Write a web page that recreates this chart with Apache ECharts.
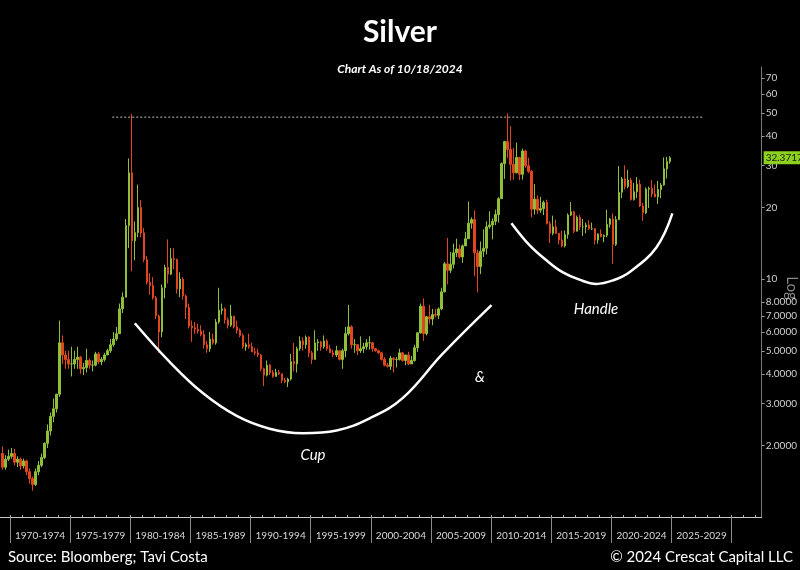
<!DOCTYPE html>
<html>
<head>
<meta charset="utf-8">
<script src="https://cdn.jsdelivr.net/npm/echarts@6/dist/echarts.min.js"></script>
<style>
html,body{margin:0;padding:0;background:#000;}
#chart{width:800px;height:570px;}
</style>
</head>
<body>
<div id="chart"></div>
<script>
// Quarterly silver prices (USD/oz): [quarter, open, close, low, high]
const silverQuarterly = [
['1969Q2',1.85,1.62,1.58,1.98],['1969Q3',1.62,1.75,1.58,1.82],['1969Q4',1.75,1.80,1.72,1.92],
['1970Q1',1.80,1.85,1.76,1.95],['1970Q2',1.85,1.70,1.65,1.93],['1970Q3',1.70,1.75,1.62,1.80],['1970Q4',1.75,1.64,1.58,1.78],
['1971Q1',1.64,1.72,1.60,1.76],['1971Q2',1.72,1.55,1.50,1.74],['1971Q3',1.55,1.45,1.38,1.60],['1971Q4',1.45,1.37,1.29,1.48],
['1972Q1',1.37,1.55,1.35,1.60],['1972Q2',1.55,1.65,1.50,1.72],['1972Q3',1.65,1.78,1.62,1.85],['1972Q4',1.78,2.04,1.75,2.06],
['1973Q1',2.04,2.30,1.95,2.45],['1973Q2',2.30,2.65,2.20,2.75],['1973Q3',2.65,2.85,2.50,3.15],['1973Q4',2.85,3.28,2.75,3.30],
['1974Q1',3.28,5.40,3.20,6.70],['1974Q2',5.40,4.80,4.40,5.80],['1974Q3',4.80,4.60,4.20,5.00],['1974Q4',4.60,4.40,4.20,5.00],
['1975Q1',4.40,4.40,3.90,5.20],['1975Q2',4.40,4.60,4.20,5.00],['1975Q3',4.60,4.70,4.20,5.20],['1975Q4',4.70,4.20,4.00,4.75],
['1976Q1',4.20,4.25,3.95,4.45],['1976Q2',4.25,4.55,4.05,5.10],['1976Q3',4.55,4.35,4.20,4.65],['1976Q4',4.35,4.35,4.10,4.55],
['1977Q1',4.35,4.85,4.30,4.95],['1977Q2',4.85,4.50,4.40,4.95],['1977Q3',4.50,4.60,4.35,4.70],['1977Q4',4.60,4.80,4.50,4.90],
['1978Q1',4.80,5.00,4.80,5.10],['1978Q2',5.00,5.30,4.90,5.60],['1978Q3',5.30,5.60,5.20,6.00],['1978Q4',5.60,5.90,5.50,6.30],
['1979Q1',5.90,7.50,5.90,7.90],['1979Q2',7.50,8.40,7.20,8.80],['1979Q3',8.40,16.80,8.40,17.90],['1979Q4',16.80,28.00,13.50,32.20],
['1980Q1',28.00,14.50,10.80,49.45],['1980Q2',14.50,15.70,12.00,17.50],['1980Q3',15.70,20.00,15.00,25.00],['1980Q4',20.00,15.65,15.00,21.50],
['1981Q1',15.65,12.10,11.80,16.40],['1981Q2',12.10,9.70,9.50,12.50],['1981Q3',9.70,9.40,8.60,10.60],['1981Q4',9.40,8.35,8.20,10.20],
['1982Q1',8.35,7.00,6.80,8.50],['1982Q2',7.00,6.00,4.90,7.10],['1982Q3',6.00,9.20,5.70,9.50],['1982Q4',9.20,11.20,8.30,11.50],
['1983Q1',11.20,10.50,9.60,14.70],['1983Q2',10.50,12.20,10.40,13.50],['1983Q3',12.20,12.10,11.00,13.50],['1983Q4',12.10,9.10,8.70,12.20],
['1984Q1',9.10,10.00,8.40,10.70],['1984Q2',10.00,8.50,8.20,10.20],['1984Q3',8.50,7.60,6.80,8.60],['1984Q4',7.60,6.35,6.20,7.90],
['1985Q1',6.35,6.25,5.45,6.70],['1985Q2',6.25,6.15,5.90,6.60],['1985Q3',6.15,6.05,5.90,6.50],['1985Q4',6.05,5.85,5.75,6.40],
['1986Q1',5.85,5.30,5.10,6.10],['1986Q2',5.30,5.10,4.90,5.50],['1986Q3',5.10,5.60,4.95,6.00],['1986Q4',5.60,5.40,5.30,5.90],
['1987Q1',5.40,6.60,5.30,6.80],['1987Q2',6.60,7.40,6.50,9.20],['1987Q3',7.40,7.50,7.10,7.90],['1987Q4',7.50,6.75,6.50,7.60],
['1988Q1',6.75,6.40,6.20,6.90],['1988Q2',6.40,7.00,6.30,7.80],['1988Q3',7.00,6.30,6.20,7.00],['1988Q4',6.30,6.10,5.90,6.70],
['1989Q1',6.10,5.80,5.70,6.20],['1989Q2',5.80,5.20,5.10,5.90],['1989Q3',5.20,5.30,5.00,5.40],['1989Q4',5.30,5.20,5.10,5.90],
['1990Q1',5.20,4.95,4.95,5.40],['1990Q2',4.95,4.90,4.80,5.15],['1990Q3',4.90,4.80,4.70,5.10],['1990Q4',4.80,4.20,4.10,4.85],
['1991Q1',4.20,3.95,3.55,4.25],['1991Q2',3.95,4.35,3.90,4.55],['1991Q3',4.35,4.05,3.95,4.40],['1991Q4',4.05,3.90,3.85,4.15],
['1992Q1',3.90,4.05,3.90,4.20],['1992Q2',4.05,4.00,3.95,4.15],['1992Q3',4.00,3.75,3.65,4.00],['1992Q4',3.75,3.70,3.65,3.85],
['1993Q1',3.70,3.80,3.52,3.85],['1993Q2',3.80,4.50,3.75,4.85],['1993Q3',4.50,4.40,4.10,5.40],['1993Q4',4.40,5.10,4.05,5.20],
['1994Q1',5.10,5.50,5.00,5.75],['1994Q2',5.50,5.30,5.00,5.70],['1994Q3',5.30,5.70,5.10,5.80],['1994Q4',5.70,4.90,4.70,5.75],
['1995Q1',4.90,4.60,4.40,5.00],['1995Q2',4.60,5.40,4.60,6.10],['1995Q3',5.40,5.45,5.00,5.60],['1995Q4',5.45,5.20,5.00,5.50],
['1996Q1',5.20,5.50,5.10,5.80],['1996Q2',5.50,5.10,5.00,5.60],['1996Q3',5.10,4.90,4.90,5.30],['1996Q4',4.90,4.80,4.70,5.05],
['1997Q1',4.80,5.00,4.70,5.25],['1997Q2',5.00,4.60,4.55,5.00],['1997Q3',4.60,5.00,4.20,5.10],['1997Q4',5.00,5.90,4.70,6.30],
['1998Q1',5.90,6.30,5.80,7.80],['1998Q2',6.30,5.30,5.10,6.40],['1998Q3',5.30,5.30,4.90,5.60],['1998Q4',5.30,5.00,4.80,5.25],
['1999Q1',5.00,5.10,4.90,5.75],['1999Q2',5.10,5.20,4.90,5.40],['1999Q3',5.20,5.40,5.05,5.60],['1999Q4',5.40,5.40,5.05,5.75],
['2000Q1',5.40,5.10,4.95,5.45],['2000Q2',5.10,5.00,4.95,5.15],['2000Q3',5.00,4.90,4.85,5.05],['2000Q4',4.90,4.60,4.55,4.95],
['2001Q1',4.60,4.35,4.30,4.70],['2001Q2',4.35,4.30,4.25,4.45],['2001Q3',4.30,4.65,4.15,4.75],['2001Q4',4.65,4.60,4.05,4.70],
['2002Q1',4.60,4.60,4.25,4.70],['2002Q2',4.60,4.90,4.55,5.10],['2002Q3',4.90,4.55,4.50,4.95],['2002Q4',4.55,4.80,4.35,4.80],
['2003Q1',4.80,4.40,4.35,4.95],['2003Q2',4.40,4.55,4.40,4.75],['2003Q3',4.55,5.15,4.50,5.30],['2003Q4',5.15,5.95,4.95,5.95],
['2004Q1',5.95,7.70,5.90,7.90],['2004Q2',7.70,5.90,5.50,8.30],['2004Q3',5.90,6.95,5.80,7.00],['2004Q4',6.95,6.80,6.50,7.80],
['2005Q1',6.80,7.10,6.40,7.50],['2005Q2',7.10,7.05,6.90,7.50],['2005Q3',7.05,7.50,6.80,7.60],['2005Q4',7.50,8.85,7.40,9.20],
['2006Q1',8.85,11.60,8.80,11.80],['2006Q2',11.60,10.90,9.50,14.90],['2006Q3',10.90,11.55,10.60,13.00],['2006Q4',11.55,12.90,11.10,14.10],
['2007Q1',12.90,13.40,12.40,14.80],['2007Q2',13.40,12.40,12.20,14.00],['2007Q3',12.40,13.80,11.70,14.00],['2007Q4',13.80,14.80,13.80,15.80],
['2008Q1',14.80,17.20,14.80,21.20],['2008Q2',17.20,17.80,16.30,18.20],['2008Q3',17.80,12.90,10.30,19.50],['2008Q4',12.90,11.30,8.80,13.30],
['2009Q1',11.30,13.10,10.50,14.40],['2009Q2',13.10,13.50,12.40,16.20],['2009Q3',13.50,16.60,12.70,17.50],['2009Q4',16.60,16.90,16.30,19.30],
['2010Q1',16.90,17.50,14.70,18.00],['2010Q2',17.50,18.70,16.90,19.60],['2010Q3',18.70,21.80,17.30,22.10],['2010Q4',21.80,30.60,21.80,31.00],
['2011Q1',30.60,37.90,26.40,38.20],['2011Q2',37.90,35.10,32.30,49.80],['2011Q3',35.10,30.40,26.00,44.00],['2011Q4',30.40,28.00,26.20,35.60],
['2012Q1',28.00,32.50,27.90,37.50],['2012Q2',32.50,27.60,26.10,32.70],['2012Q3',27.60,34.60,26.20,35.40],['2012Q4',34.60,30.00,29.40,35.00],
['2013Q1',30.00,28.40,27.90,32.40],['2013Q2',28.40,19.70,18.20,28.80],['2013Q3',19.70,21.70,18.70,25.10],['2013Q4',21.70,19.50,18.80,22.50],
['2014Q1',19.50,19.80,19.00,22.20],['2014Q2',19.80,21.00,18.60,21.40],['2014Q3',21.00,17.10,17.00,21.60],['2014Q4',17.10,15.60,14.20,17.50],
['2015Q1',15.60,16.60,15.30,18.50],['2015Q2',16.60,15.60,15.50,17.80],['2015Q3',15.60,14.60,14.00,15.60],['2015Q4',14.60,13.80,13.60,16.00],
['2016Q1',13.80,15.40,13.60,16.00],['2016Q2',15.40,18.60,14.80,18.90],['2016Q3',18.60,19.20,18.40,21.10],['2016Q4',19.20,15.90,15.60,19.40],
['2017Q1',15.90,18.20,15.90,18.50],['2017Q2',18.20,16.60,16.10,18.60],['2017Q3',16.60,16.60,15.20,17.90],['2017Q4',16.60,16.90,15.60,17.30],
['2018Q1',16.90,16.30,16.10,17.70],['2018Q2',16.30,16.30,16.10,17.30],['2018Q3',16.30,14.60,14.00,16.40],['2018Q4',14.60,15.50,14.10,15.60],
['2019Q1',15.50,15.10,15.00,16.20],['2019Q2',15.10,15.30,14.30,15.40],['2019Q3',15.30,17.00,15.00,19.60],['2019Q4',17.00,17.90,16.50,18.10],
['2020Q1',17.90,14.00,11.60,18.90],['2020Q2',14.00,17.80,13.80,18.40],['2020Q3',17.80,23.20,17.70,29.90],['2020Q4',23.20,26.40,21.90,26.90],
['2021Q1',26.40,24.50,23.80,30.10],['2021Q2',24.50,26.10,24.10,28.80],['2021Q3',26.10,21.60,21.40,26.70],['2021Q4',21.60,23.30,21.40,25.40],
['2022Q1',23.30,25.10,21.90,26.90],['2022Q2',25.10,20.30,20.10,26.20],['2022Q3',20.30,19.00,17.60,20.90],['2022Q4',19.00,23.90,18.80,24.30],
['2023Q1',23.90,24.10,19.90,24.50],['2023Q2',24.10,22.80,22.10,26.10],['2023Q3',22.80,22.20,22.10,25.00],['2023Q4',22.20,23.80,20.70,25.90],
['2024Q1',23.80,24.90,21.90,25.40],['2024Q2',24.90,29.10,24.70,32.50],['2024Q3',29.10,31.20,26.50,32.70],['2024Q4',31.20,32.3717,30.60,32.90]
];

const lastPrice = 32.3717;
// Dotted resistance line near the 1980 / 2011 highs: [year, price]
const resistanceLine = [[1978.5, 48], [2027.6, 48]];
// Hand-drawn "cup" arc: [year, price]
const cupCurve = [[1980.38,6.53],[1983.29,4.48],[1986.03,3.32],[1988.85,2.66],[1991.59,2.35],[1994.34,2.25],[1997.16,2.31],[1999.90,2.60],[2002.64,3.16],[2005.96,4.85],[2010.03,7.78]];
// Hand-drawn "handle" arc: [year, price]
const handleCurve = [[2011.69,17.2],[2013.19,13.9],[2014.60,12.0],[2015.93,10.7],[2017.34,9.95],[2018.75,9.55],[2020.17,9.9],[2021.50,10.7],[2023.74,13.6],[2025.07,18.9]];
// Axis ticks / labels
const periodStarts = [1970,1975,1980,1985,1990,1995,2000,2005,2010,2015,2020,2025,2030];
const periodLabels = ['1970-1974','1975-1979','1980-1984','1985-1989','1990-1994','1995-1999','2000-2004','2005-2009','2010-2014','2015-2019','2020-2024','2025-2029'];
const yearTicks = [1970,1971,1972,1973,1974,1975,1976,1977,1978,1979,1980,1981,1982,1983,1984,1985,1986,1987,1988,1989,1990,1991,1992,1993,1994,1995,1996,1997,1998,1999,2000,2001,2002,2003,2004,2005,2006,2007,2008,2009,2010,2011,2012,2013,2014,2015,2016,2017,2018,2019,2020,2021,2022,2023,2024,2025,2026,2027,2028,2029,2030,2031,2032];
const priceTicks = [2,3,4,5,6,7,8,10,20,30,40,50,60,70];

function quarterToYear(q) {
  const y = parseInt(q.slice(0, 4), 10);
  const n = parseInt(q.slice(5), 10);
  return y + (n - 1) * 0.25 + 0.125;
}
const candleData = silverQuarterly.map(r => [quarterToYear(r[0]), r[1], r[2], r[3], r[4]]);
const labelCenters = periodStarts.slice(0, periodLabels.length).map(v => v + 2.5);

const chart = echarts.init(document.getElementById('chart'), null, {renderer: 'canvas'});
const FONT = 'Lato, "Open Sans", sans-serif';

chart.setOption({
  backgroundColor: '#000',
  animation: false,
  grid: {left: 0, right: 37, top: 67, bottom: 53, containLabel: false},
  xAxis: [{
    type: 'value', min: 1969.17, max: 2032.49,
    splitLine: {show: false},
    axisLine: {show: true, lineStyle: {color: '#c8c8c8', width: 1}},
    axisTick: {show: true, customValues: periodStarts, length: 26, lineStyle: {color: '#8a8a8a'}},
    axisLabel: {
      show: true, customValues: labelCenters, color: '#d8d8d8', fontSize: 10, fontFamily: FONT, margin: 14,
      formatter: v => periodLabels[periodStarts.indexOf(Math.round(v - 2.5))] || ''
    }
  }, {
    type: 'value', min: 1969.17, max: 2032.49, position: 'bottom',
    splitLine: {show: false},
    axisLine: {show: false},
    axisTick: {show: true, inside: true, customValues: yearTicks, length: 2, lineStyle: {color: '#aaa'}},
    axisLabel: {show: false}
  }],
  yAxis: {
    type: 'log', logBase: 10, min: 1, max: 78, position: 'right',
    splitLine: {show: false},
    minorTick: {show: false},
    axisLine: {show: true, lineStyle: {color: '#7a7a6a', width: 1}},
    axisTick: {show: true, customValues: priceTicks, length: 3, lineStyle: {color: '#999'}},
    axisLabel: {
      show: true, customValues: priceTicks, color: '#d0d0d0', fontSize: 10, fontFamily: FONT, margin: 4,
      formatter: v => v >= 10 ? String(Math.round(v)) : Number(v).toFixed(4)
    }
  },
  series: [{
    type: 'candlestick',
    xAxisIndex: 0,
    data: candleData,
    encode: {x: 0, y: [1, 2, 3, 4]},
    barWidth: 2,
    itemStyle: {color: '#8fbf38', color0: '#e2461f', borderColor: '#8fbf38', borderColor0: '#e2461f', borderWidth: 1},
    markLine: {
      silent: true, symbol: ['none', 'none'],
      lineStyle: {color: 'rgba(0,0,0,0)', width: 0},
      label: {
        show: true, position: 'end', distance: 2, formatter: String(lastPrice),
        backgroundColor: '#8cd11e', color: '#1a1a1a', fontSize: 10, fontFamily: FONT, padding: [2, 2, 1, 2]
      },
      data: [{yAxis: lastPrice}]
    }
  }, {
    type: 'line', data: resistanceLine, symbol: 'none', silent: true,
    lineStyle: {color: '#bdbdbd', width: 1, type: [2, 2]}
  }, {
    type: 'line', data: cupCurve, symbol: 'none', smooth: 0.4, silent: true,
    lineStyle: {color: '#ffffff', width: 2.5}
  }, {
    type: 'line', data: handleCurve, symbol: 'none', smooth: 0.4, silent: true,
    lineStyle: {color: '#ffffff', width: 2.5}
  }],
  graphic: [
    {type: 'text', x: 400, y: 32, style: {text: 'Silver', fill: '#fff', font: 'bold 30px ' + FONT, textAlign: 'center', textVerticalAlign: 'middle'}},
    {type: 'text', x: 400, y: 69, style: {text: 'Chart As of 10/18/2024', fill: '#fff', font: 'italic bold 12px ' + FONT, textAlign: 'center', textVerticalAlign: 'middle'}},
    {type: 'text', x: 8, y: 557, style: {text: 'Source: Bloomberg; Tavi Costa', fill: '#fff', font: '15px ' + FONT, textAlign: 'left', textVerticalAlign: 'middle'}},
    {type: 'text', x: 793, y: 557, style: {text: '\u00A9 2024 Crescat Capital LLC', fill: '#fff', font: '15px ' + FONT, textAlign: 'right', textVerticalAlign: 'middle'}},
    {type: 'text', x: 313, y: 455, style: {text: 'Cup', fill: '#fff', font: 'italic 15px ' + FONT, textAlign: 'center', textVerticalAlign: 'middle'}},
    {type: 'text', x: 480, y: 377, style: {text: '&', fill: '#fff', font: 'italic 15px ' + FONT, textAlign: 'center', textVerticalAlign: 'middle'}},
    {type: 'text', x: 596, y: 309, style: {text: 'Handle', fill: '#fff', font: 'italic 15px ' + FONT, textAlign: 'center', textVerticalAlign: 'middle'}},
    {type: 'text', x: 792, y: 288, rotation: -Math.PI / 2, style: {text: 'Log', fill: '#8a8a8a', font: '15px ' + FONT, textAlign: 'center', textVerticalAlign: 'middle'}}
  ]
});
</script>
</body>
</html>
